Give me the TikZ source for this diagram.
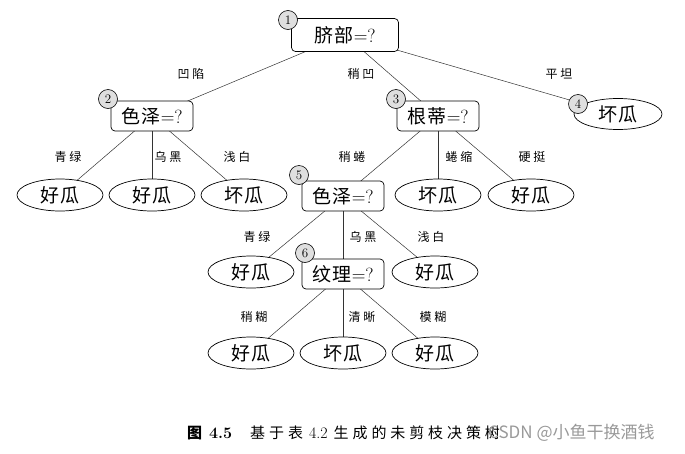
\documentclass[tikz,border=0pt]{standalone}
\usepackage{fontspec}
\usetikzlibrary{shapes.geometric}
\newfontfamily\cjk{Noto Sans CJK SC}
\newfontfamily\cjkls[LetterSpace=22]{Noto Sans CJK SC}
\newfontfamily\cjkcap[LetterSpace=26]{Noto Sans CJK SC}
\newfontfamily\cjkmid[LetterSpace=8]{Noto Sans CJK SC}
\begin{document}
\begin{tikzpicture}[x=1pt,y=-1pt,
  dec/.style={draw,rounded corners=4pt,fill=white,line width=0.7pt,minimum width=82pt,minimum height=30pt,inner sep=2pt,font=\fontsize{19}{19}\selectfont},
  leaf/.style={draw,ellipse,fill=white,line width=0.7pt,minimum width=86pt,minimum height=32pt,inner sep=0pt,font=\fontsize{19}{19}\selectfont\cjkmid},
  num/.style={draw,circle,fill=gray!25,line width=0.6pt,minimum size=19pt,inner sep=0pt,font=\fontsize{13}{13}\selectfont},
  lab/.style={font=\fontsize{12}{12}\selectfont\cjkls},
  conn/.style={line width=0.5pt,draw=black!80}]
\useasboundingbox (0,0) rectangle (685,453);
% node coordinates
\coordinate (c1) at (345,35);
\coordinate (c2) at (152,116);
\coordinate (c3) at (438,116);
\coordinate (c4) at (618,114);
\coordinate (c5) at (343,196);
\coordinate (c6) at (343,274);
\coordinate (l21) at (60,195);
\coordinate (l22) at (152,195);
\coordinate (l23) at (244,195);
\coordinate (l32) at (438,195);
\coordinate (l33) at (531,195);
\coordinate (l51) at (251,272);
\coordinate (l53) at (435,272);
\coordinate (l61) at (251,353);
\coordinate (l62) at (343,353);
\coordinate (l63) at (435,353);
% edges first (behind nodes)
\draw[conn] (c1) -- (c2);
\draw[conn] (c1) -- (c3);
\draw[conn] (c1) -- (c4);
\draw[conn] (c2) -- (l21);
\draw[conn] (c2) -- (l22);
\draw[conn] (c2) -- (l23);
\draw[conn] (c3) -- (c5);
\draw[conn] (c3) -- (l32);
\draw[conn] (c3) -- (l33);
\draw[conn] (c5) -- (l51);
\draw[conn] (c5) -- (c6);
\draw[conn] (c5) -- (l53);
\draw[conn] (c6) -- (l61);
\draw[conn] (c6) -- (l62);
\draw[conn] (c6) -- (l63);
% decision nodes
\node[dec,minimum width=107pt,minimum height=33pt] (n1) at (c1) {{\cjkmid 脐部}=?};
\node[dec] (n2) at (c2) {{\cjkmid 色泽}=?};
\node[dec] (n3) at (c3) {{\cjkmid 根蒂}=?};
\node[leaf,minimum width=88pt,minimum height=31pt] (n4) at (c4) {坏瓜};
\node[dec] (n5) at (c5) {{\cjkmid 色泽}=?};
\node[dec] (n6) at (c6) {{\cjkmid 纹理}=?};
% leaves
\node[leaf] (a1) at (l21) {好瓜};
\node[leaf] (a2) at (l22) {好瓜};
\node[leaf] (a3) at (l23) {坏瓜};
\node[leaf] (b2) at (l32) {坏瓜};
\node[leaf] (b3) at (l33) {好瓜};
\node[leaf] (d1) at (l51) {好瓜};
\node[leaf] (d3) at (l53) {好瓜};
\node[leaf] (e1) at (l61) {好瓜};
\node[leaf] (e2) at (l62) {坏瓜};
\node[leaf] (e3) at (l63) {好瓜};
% number circles
\node[num] (k1) at (288,20) {1};
\node[num] (k2) at (108,99) {2};
\node[num] (k3) at (396,99) {3};
\node[num] (k4) at (578,104) {4};
\node[num] (k5) at (299,175) {5};
\node[num] (k6) at (305,253) {6};
% edge labels
\node[lab] (t1) at (191,74) {凹陷};
\node[lab] (t2) at (361,74) {稍凹};
\node[lab] (t3) at (559,74) {平坦};
\node[lab] (t4) at (68,157) {青绿};
\node[lab] (t5) at (168,157) {乌黑};
\node[lab] (t6) at (237,157) {浅白};
\node[lab] (t7) at (352,157) {稍蜷};
\node[lab] (t8) at (459,157) {蜷缩};
\node[lab] (t9) at (532,157) {硬挺};
\node[lab] (t10) at (257,237) {青绿};
\node[lab] (t11) at (363,237) {乌黑};
\node[lab] (t12) at (431,237) {浅白};
\node[lab] (t13) at (254,317) {稍糊};
\node[lab] (t14) at (362,317) {清晰};
\node[lab] (t15) at (433,317) {模糊};
% caption
\node[anchor=west,font=\fontsize{15}{15}\selectfont,inner sep=0pt] (cap) at (187,433) {{\cjk\bfseries 图}\hspace{7pt}{\fontsize{16}{16}\selectfont\textbf{4.5}}\hspace{18pt}{\cjkcap 基于表}\hspace{6pt}{\fontsize{16}{16}\selectfont 4.2}\hspace{6pt}{\cjkcap 生成的未剪枝决策树}};
\node[anchor=west,font=\fontsize{17}{17}\selectfont\cjk,text=black!40,inner sep=0pt] (wm) at (488,433) {CSDN @小鱼干换酒钱};
\end{tikzpicture}
\end{document}
